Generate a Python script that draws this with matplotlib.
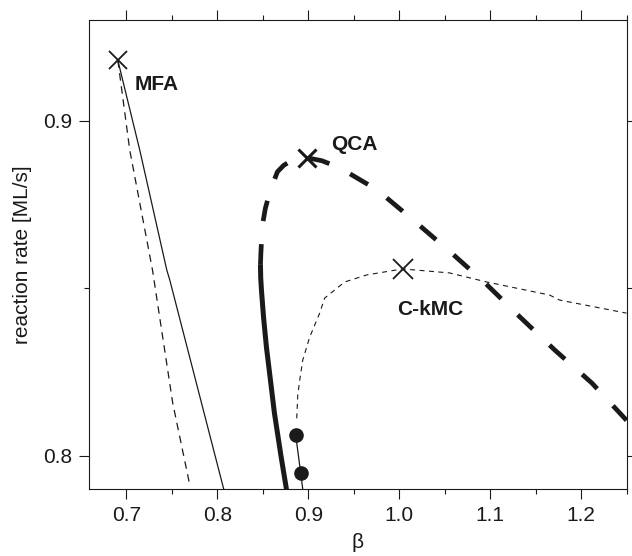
import matplotlib.pyplot as plt
from matplotlib.ticker import MultipleLocator

plt.rcParams["font.family"] = ["Liberation Sans", "DejaVu Sans"]

INK = "#1a1a1a"

# MFA (two thin lines from the MFA optimum)
mfa_solid_b = [0.6907, 0.7148, 0.7445, 0.7478, 0.8071]
mfa_solid_r = [0.9180, 0.8912, 0.8554, 0.8524, 0.7900]
mfa_dash_b = [0.6907, 0.7038, 0.7288, 0.7511, 0.7698]
mfa_dash_r = [0.9180, 0.8912, 0.8554, 0.8156, 0.7912]
mfa_peak = (0.6907, 0.9180)

# QCA: dashed (unstable) part and thick solid part
qca_dash_b = [0.8475, 0.8480, 0.8486, 0.8497, 0.8530, 0.8585, 0.8662, 0.8730,
              0.8794, 0.8900, 0.8984, 0.9150, 0.9346, 0.9758, 1.0154, 1.0540,
              1.0945, 1.1330, 1.1710, 1.2120, 1.2500]
qca_dash_r = [0.8569, 0.8605, 0.8637, 0.8688, 0.8739, 0.8793, 0.8847, 0.8866,
              0.8877, 0.8886, 0.8889, 0.8880, 0.8859, 0.8793, 0.8703, 0.8613,
              0.8515, 0.8413, 0.8315, 0.8216, 0.8105]
qca_solid_b = [0.8475, 0.8478, 0.8486, 0.8510, 0.8541, 0.8585, 0.8629, 0.8700, 0.8761]
qca_solid_r = [0.8569, 0.8530, 0.8494, 0.8410, 0.8323, 0.8225, 0.8126, 0.8000, 0.7899]
qca_peak = (0.8984, 0.8889)

# C-kMC
kmc_b = [0.8874, 0.8885, 0.8907, 0.8940, 0.9016, 0.9126, 0.9181, 0.9401,
         0.9643, 1.0038, 1.0555, 1.0962, 1.1654, 1.1764, 1.2500]
kmc_r = [0.8111, 0.8180, 0.8225, 0.8285, 0.8353, 0.8425, 0.8470, 0.8518,
         0.8539, 0.8557, 0.8545, 0.8518, 0.8479, 0.8464, 0.8425]
kmc_peak = (1.0038, 0.8557)
kmc_pts_b = [0.8863, 0.8918]
kmc_pts_r = [0.8060, 0.7947]
kmc_tail_b = [0.8863, 0.8918, 0.8940]
kmc_tail_r = [0.8060, 0.7947, 0.7900]

fig = plt.figure(figsize=(6.32, 5.56), dpi=100)
ax = fig.add_axes([0.1408, 0.1205, 0.8513, 0.8435])

ax.plot(mfa_solid_b, mfa_solid_r, color=INK, lw=0.9)
ax.plot(mfa_dash_b, mfa_dash_r, color=INK, lw=0.9, dashes=(6, 4.5))
ax.plot(*mfa_peak, marker="x", ms=13, mew=1.3, color=INK)

ax.plot(qca_dash_b, qca_dash_r, color=INK, lw=3.4, dashes=(4.4, 4.9))
ax.plot(qca_solid_b, qca_solid_r, color=INK, lw=3.6, solid_capstyle="butt")
ax.plot(*qca_peak, marker="x", ms=13, mew=2.2, color=INK)

ax.plot(kmc_b, kmc_r, color=INK, lw=0.8, dashes=(4.5, 4))
ax.plot(*kmc_peak, marker="x", ms=14, mew=1.3, color=INK)
ax.plot(kmc_tail_b, kmc_tail_r, color=INK, lw=0.9)
ax.plot(kmc_pts_b, kmc_pts_r, "o", ms=9.5, color=INK)

ax.text(0.7093, 0.9108, "MFA", fontsize=15, fontweight="bold", color=INK,
        ha="left", va="center")
ax.text(0.9247, 0.8929, "QCA", fontsize=15, fontweight="bold", color=INK,
        ha="left", va="center")
ax.text(0.9973, 0.8436, "C-kMC", fontsize=15, fontweight="bold", color=INK,
        ha="left", va="center")

ax.set_xlim(0.659, 1.2505)
ax.set_ylim(0.790, 0.930)
ax.xaxis.set_major_locator(MultipleLocator(0.1))
ax.xaxis.set_minor_locator(MultipleLocator(0.05))
ax.yaxis.set_major_locator(MultipleLocator(0.1))
ax.yaxis.set_minor_locator(MultipleLocator(0.05))
ax.xaxis.set_major_formatter(lambda v, p: f"{v:.1f}")
ax.yaxis.set_major_formatter(lambda v, p: f"{v:.1f}")

ax.tick_params(which="both", direction="out", top=True, right=True,
               color=INK, width=0.8, labelsize=15, labelcolor=INK)
ax.tick_params(which="major", length=7.2, pad=5)
ax.tick_params(which="minor", length=3.6)
for s in ax.spines.values():
    s.set_color(INK)
    s.set_linewidth(0.8)

ax.set_xlabel("β", fontsize=15, color=INK, labelpad=6)
ax.set_ylabel("reaction rate [ML/s]", fontsize=15, color=INK, labelpad=8)

fig.savefig("out.png", dpi=100)
